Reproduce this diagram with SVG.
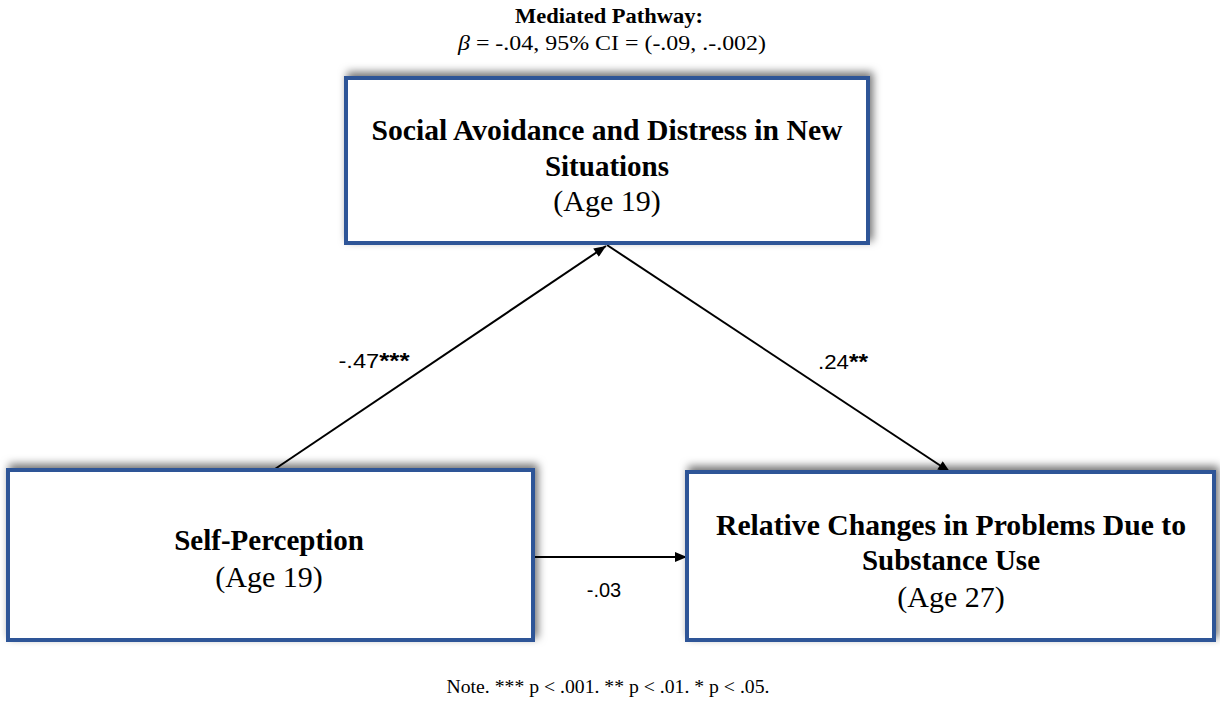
<svg xmlns="http://www.w3.org/2000/svg" width="1220" height="702" viewBox="0 0 1220 702">
<style>
.box{fill:#fff;stroke:#2f5597;stroke-width:4;filter:url(#sh)}
.t{font-family:"Liberation Serif",serif;text-anchor:middle;fill:#000}
.b{font-weight:bold;font-size:29px}
.r{font-size:30px}
.lbl{font-family:"Liberation Sans",sans-serif;font-size:20px;fill:#000;text-anchor:middle}
.ast{font-weight:bold;font-size:22px}
.c{stroke:#000;stroke-width:2;fill:none;marker-end:url(#ah)}
</style>
<defs>
<filter id="sh" x="-10%" y="-20%" width="120%" height="140%">
<feDropShadow dx="3" dy="-4" stdDeviation="4" flood-color="#000" flood-opacity="0.55"/>
</filter>
<marker id="ah" viewBox="0 0 12 10" refX="12" refY="5" markerWidth="13" markerHeight="10" orient="auto" markerUnits="userSpaceOnUse">
<path d="M0,0 L12,5 L0,10 z" fill="#000"/>
</marker>
</defs>
<g id="title">
<text class="t" x="609" y="23" font-size="21" font-weight="bold" textLength="188" lengthAdjust="spacingAndGlyphs">Mediated Pathway:</text>
<text class="t" x="612" y="50" font-size="22" textLength="308" lengthAdjust="spacingAndGlyphs"><tspan font-style="italic">β</tspan> = -.04, 95% CI = (-.09, .-.002)</text>
</g>
<g id="connectors">
<line class="c" x1="272" y1="471" x2="606" y2="246"/>
<line class="c" x1="607" y1="245" x2="950" y2="472"/>
<line class="c" x1="533" y1="557" x2="687" y2="557"/>
<text class="lbl" x="374" y="368" textLength="71" lengthAdjust="spacingAndGlyphs">-.47<tspan class="ast">***</tspan></text>
<text class="lbl" x="843" y="369" textLength="50" lengthAdjust="spacingAndGlyphs">.24<tspan class="ast">**</tspan></text>
<text class="lbl" x="604" y="597">-.03</text>
</g>
<g id="node-mediator">
<rect class="box" x="346" y="78" width="522" height="165"/>
<text class="t b" x="607" y="140" textLength="471" lengthAdjust="spacingAndGlyphs">Social Avoidance and Distress in New</text>
<text class="t b" x="607" y="176">Situations</text>
<text class="t r" x="607" y="211">(Age 19)</text>
</g>
<g id="node-self">
<rect class="box" x="8" y="470" width="525" height="170"/>
<text class="t b" x="269" y="550">Self-Perception</text>
<text class="t r" x="269" y="587">(Age 19)</text>
</g>
<g id="node-outcome">
<rect class="box" x="687" y="472" width="527" height="168"/>
<text class="t b" x="951" y="535" textLength="470" lengthAdjust="spacingAndGlyphs">Relative Changes in Problems Due to</text>
<text class="t b" x="951" y="570">Substance Use</text>
<text class="t r" x="951" y="607">(Age 27)</text>
</g>
<g id="note">
<text class="t" x="608" y="693" font-size="19" textLength="323" lengthAdjust="spacingAndGlyphs">Note. *** p &lt; .001. ** p &lt; .01. * p &lt; .05.</text>
</g>
</svg>
